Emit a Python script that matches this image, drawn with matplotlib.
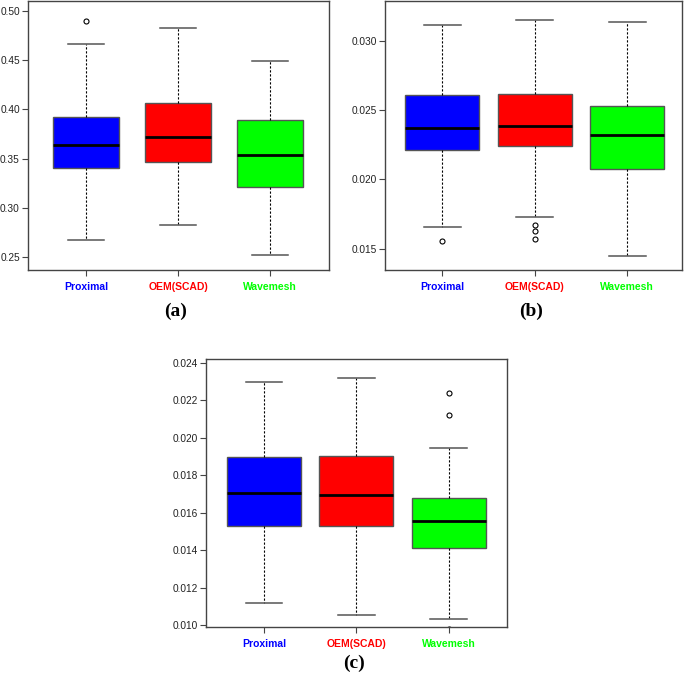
import matplotlib
matplotlib.use("Agg")
import matplotlib.pyplot as plt

categories = ["Proximal", "OEM(SCAD)", "Wavemesh"]
colors = ["#0000FF", "#FF0000", "#00FF00"]

# panel (a): whisker low, Q1, median, Q3, whisker high, outliers
a_wlo = [0.2670, 0.2822, 0.2517]
a_q1 = [0.3405, 0.3466, 0.3215]
a_med = [0.3635, 0.3723, 0.3537]
a_q3 = [0.3926, 0.4062, 0.3895]
a_whi = [0.4668, 0.4824, 0.4495]
a_out = [[0.4898], [], []]
a_yticks = [0.25, 0.30, 0.35, 0.40, 0.45, 0.50]
a_yticklabels = ["0.25", "0.30", "0.35", "0.40", "0.45", "0.50"]

# panel (b)
b_wlo = [0.01657, 0.01726, 0.01447]
b_q1 = [0.02209, 0.02239, 0.02078]
b_med = [0.02368, 0.02386, 0.02323]
b_q3 = [0.02611, 0.02612, 0.02530]
b_whi = [0.03113, 0.03149, 0.03137]
b_out = [[0.01558], [0.01668, 0.01625, 0.01570], []]
b_yticks = [0.015, 0.020, 0.025, 0.030]
b_yticklabels = ["0.015", "0.020", "0.025", "0.030"]

# panel (c)
c_wlo = [0.01118, 0.01054, 0.01032]
c_q1 = [0.01528, 0.01528, 0.01411]
c_med = [0.01704, 0.01691, 0.01554]
c_q3 = [0.01896, 0.01900, 0.01678]
c_whi = [0.02295, 0.02317, 0.01943]
c_out = [[], [], [0.02238, 0.02118, 0.00981]]
c_yticks = [0.010, 0.012, 0.014, 0.016, 0.018, 0.020, 0.022, 0.024]
c_yticklabels = ["0.010", "0.012", "0.014", "0.016", "0.018", "0.020", "0.022", "0.024"]

W, H = 685, 679
fig = plt.figure(figsize=(W / 100, H / 100), dpi=100)


def rect(l, t, r, b):
    return [l / W, 1 - b / H, (r - l) / W, (b - t) / H]


def panel(r, wlo, q1, med, q3, whi, outs, yticks, ylabels, ylim, xlim, width,
          caption, cap_xy):
    ax = fig.add_axes(rect(*r))
    stats = []
    for i in range(3):
        stats.append(dict(whislo=wlo[i], q1=q1[i], med=med[i], q3=q3[i],
                          whishi=whi[i], fliers=outs[i]))
    bp = ax.bxp(stats, positions=[1, 2, 3], widths=width, patch_artist=True,
                showfliers=True,
                boxprops=dict(edgecolor="#555555", linewidth=1.0),
                whiskerprops=dict(color="black", linestyle=(0, (2, 1.6)),
                                  linewidth=0.8),
                capprops=dict(color="#555555", linewidth=1.1),
                medianprops=dict(color="black", linewidth=2.0),
                flierprops=dict(marker="o", markersize=3.6,
                                markerfacecolor="none",
                                markeredgecolor="black",
                                markeredgewidth=0.8))
    for p, c in zip(bp["boxes"], colors):
        p.set_facecolor(c)
    for ln in bp["caps"]:
        x0, x1 = ln.get_xdata()
        xc = (x0 + x1) / 2
        ln.set_xdata([xc - 0.2, xc + 0.2])
    ax.set_xlim(*xlim)
    ax.set_ylim(*ylim)
    ax.set_yticks(yticks)
    ax.set_yticklabels(ylabels, fontsize=7.3, family="Liberation Sans",
                       color="#222222")
    ax.set_xticks([1, 2, 3])
    ax.set_xticklabels(categories, fontsize=7.5, family="Liberation Sans",
                       fontweight="bold")
    for t, c in zip(ax.get_xticklabels(), colors):
        t.set_color(c)
    ax.tick_params(axis="y", length=4, width=0.8, pad=1.5, color="#444444")
    ax.tick_params(axis="x", length=4, width=0.8, pad=5, color="#444444")
    for s in ax.spines.values():
        s.set_color("#444444")
        s.set_linewidth(1.0)
    fig.text(cap_xy[0] / W, 1 - cap_xy[1] / H, caption, ha="center",
             va="center", fontsize=14, fontweight="bold",
             family="Liberation Serif")
    return ax


panel((27.5, 1, 329, 270), a_wlo, a_q1, a_med, a_q3, a_whi, a_out,
      a_yticks, a_yticklabels, (0.2368, 0.5102), (0.364, 3.641), 0.72,
      "(a)", (176, 311))
panel((385, 1, 682, 270), b_wlo, b_q1, b_med, b_q3, b_whi, b_out,
      b_yticks, b_yticklabels, (0.01346, 0.03286), (0.380, 3.591), 0.8,
      "(b)", (531.5, 311))
panel((206, 359, 507.3, 626.7), c_wlo, c_q1, c_med, c_q3, c_whi, c_out,
      c_yticks, c_yticklabels, (0.00991, 0.02419), (0.372, 3.635), 0.8,
      "(c)", (353.5, 663))

fig.savefig("out.png", dpi=100)
